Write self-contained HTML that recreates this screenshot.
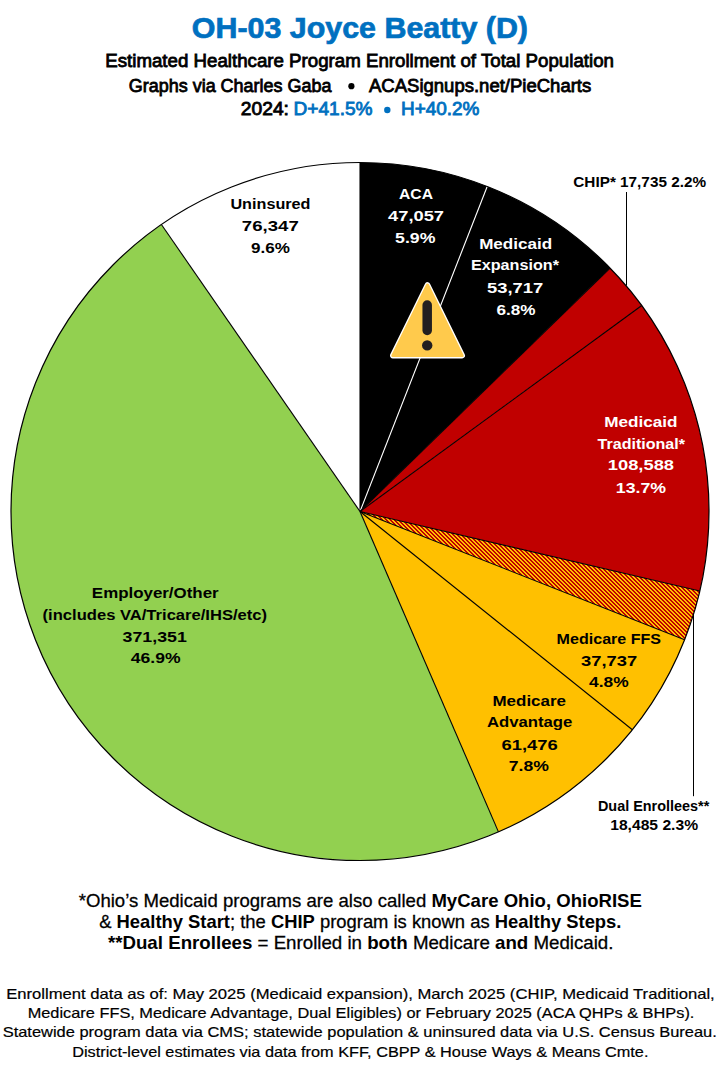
<!DOCTYPE html>
<html><head><meta charset="utf-8"><style>
html,body{margin:0;padding:0;background:#fff;width:720px;height:1070px;overflow:hidden}
svg{display:block}
</style></head><body>
<svg width="720" height="1070" viewBox="0 0 720 1070" font-family='"Liberation Sans", sans-serif'>
<defs>
<pattern id="hatch" patternUnits="userSpaceOnUse" x="0" y="0" width="4" height="4">
<rect width="4" height="4" fill="#FFC000"/>
<g fill="#C00000" shape-rendering="crispEdges"><rect x="2" y="0" width="2" height="1"/><rect x="3" y="1" width="1" height="1"/><rect x="0" y="1" width="1" height="1"/><rect x="0" y="2" width="2" height="1"/><rect x="1" y="3" width="2" height="1"/></g>
</pattern>
</defs>
<rect width="720" height="1070" fill="#fff"/>
<path d="M360.00,511.50 L360.00,162.50 A349.00,349.00 0 0 1 487.21,186.51 Z" fill="#000000"/>
<path d="M360.00,511.50 L487.21,186.51 A349.00,349.00 0 0 1 610.11,268.09 Z" fill="#000000"/>
<path d="M360.00,511.50 L610.11,268.09 A349.00,349.00 0 0 1 641.75,305.55 Z" fill="#C00000"/>
<path d="M360.00,511.50 L641.75,305.55 A349.00,349.00 0 0 1 699.83,590.97 Z" fill="#C00000"/>
<path d="M360.00,511.50 L699.83,590.97 A349.00,349.00 0 0 1 684.58,639.74 Z" fill="url(#hatch)"/>
<path d="M360.00,511.50 L684.58,639.74 A349.00,349.00 0 0 1 632.37,729.72 Z" fill="#FFC000"/>
<path d="M360.00,511.50 L632.37,729.72 A349.00,349.00 0 0 1 498.45,831.86 Z" fill="#FFC000"/>
<path d="M360.00,511.50 L498.45,831.86 A349.00,349.00 0 0 1 161.41,224.51 Z" fill="#92D050"/>
<path d="M360.00,511.50 L161.41,224.51 A349.00,349.00 0 0 1 360.00,162.50 Z" fill="#FFFFFF"/>
<line x1="360.00" y1="511.50" x2="360.00" y2="162.50" stroke="#000" stroke-width="1.1"/>
<line x1="360.00" y1="511.50" x2="487.21" y2="186.51" stroke="#fff" stroke-width="1.1"/>
<line x1="360.00" y1="511.50" x2="610.11" y2="268.09" stroke="#000" stroke-width="1.1"/>
<line x1="360.00" y1="511.50" x2="641.75" y2="305.55" stroke="#000" stroke-width="1.1"/>
<line x1="360.00" y1="511.50" x2="699.83" y2="590.97" stroke="#000" stroke-width="1.1"/>
<line x1="360.00" y1="511.50" x2="684.58" y2="639.74" stroke="#000" stroke-width="1.1"/>
<line x1="360.00" y1="511.50" x2="632.37" y2="729.72" stroke="#000" stroke-width="1.1"/>
<line x1="360.00" y1="511.50" x2="498.45" y2="831.86" stroke="#000" stroke-width="1.1"/>
<line x1="360.00" y1="511.50" x2="161.41" y2="224.51" stroke="#000" stroke-width="1.1"/>
<circle cx="360.00" cy="511.50" r="349.00" fill="none" stroke="#000" stroke-width="1.2"/>
<line x1="626.5" y1="192" x2="626.5" y2="285.6" stroke="#000" stroke-width="1"/>
<line x1="693.5" y1="614.4" x2="693.5" y2="796.2" stroke="#000" stroke-width="1"/>
<g>
<polygon points="427.5,285 462.2,355.6 392.8,355.6" fill="#fff" stroke="#fff" stroke-width="5.6" stroke-linejoin="round"/><polygon points="427.5,285 462.2,355.6 392.8,355.6" fill="#FFCA4C" stroke="#FFCA4C" stroke-width="3" stroke-linejoin="round"/>
<line x1="427.2" y1="305" x2="427.2" y2="330.5" stroke="#231F20" stroke-width="9.5" stroke-linecap="round"/>
<circle cx="427.2" cy="345.4" r="5.2" fill="#231F20"/>
</g>
<circle cx="351.4" cy="86.2" r="3.1" fill="#000"/>
<circle cx="387.3" cy="110.0" r="3.2" fill="#0070C0"/>
<text x="191.87" y="38.00" font-size="29.506" textLength="336.12" lengthAdjust="spacingAndGlyphs" style="white-space:pre"><tspan font-weight="700" fill="#0070C0" stroke="#0070C0" stroke-width="0.7">OH-03 Joyce Beatty (D)</tspan></text>
<text x="105.22" y="66.75" font-size="18.169" textLength="508.72" lengthAdjust="spacingAndGlyphs" style="white-space:pre"><tspan font-weight="400" fill="#000" stroke="#000" stroke-width="0.8">Estimated Healthcare Program Enrollment of Total Population</tspan></text>
<text x="128.75" y="91.75" font-size="18.169" textLength="202.74" lengthAdjust="spacingAndGlyphs" style="white-space:pre"><tspan font-weight="400" fill="#000" stroke="#000" stroke-width="0.8">Graphs via Charles Gaba</tspan></text>
<text x="369.00" y="91.75" font-size="18.169" textLength="222.25" lengthAdjust="spacingAndGlyphs" style="white-space:pre"><tspan font-weight="400" fill="#000" stroke="#000" stroke-width="0.8">ACASignups.net/PieCharts</tspan></text>
<text x="240.80" y="115.40" font-size="17.878" textLength="48.16" lengthAdjust="spacingAndGlyphs" style="white-space:pre"><tspan font-weight="400" fill="#000" stroke="#000" stroke-width="0.8">2024:</tspan></text>
<text x="293.53" y="115.40" font-size="17.878" textLength="79.04" lengthAdjust="spacingAndGlyphs" style="white-space:pre"><tspan font-weight="400" fill="#0070C0" stroke="#0070C0" stroke-width="0.8">D+41.5%</tspan></text>
<text x="400.94" y="115.40" font-size="17.878" textLength="78.53" lengthAdjust="spacingAndGlyphs" style="white-space:pre"><tspan font-weight="400" fill="#0070C0" stroke="#0070C0" stroke-width="0.8">H+40.2%</tspan></text>
<text x="230.42" y="208.50" font-size="14.971" textLength="80.10" lengthAdjust="spacingAndGlyphs" style="white-space:pre"><tspan font-weight="700" fill="#000">Uninsured</tspan></text>
<text x="241.86" y="230.60" font-size="14.971" textLength="56.88" lengthAdjust="spacingAndGlyphs" style="white-space:pre"><tspan font-weight="700" fill="#000">76,347</tspan></text>
<text x="251.00" y="252.50" font-size="14.971" textLength="38.89" lengthAdjust="spacingAndGlyphs" style="white-space:pre"><tspan font-weight="700" fill="#000">9.6%</tspan></text>
<text x="399.00" y="198.75" font-size="14.971" textLength="33.96" lengthAdjust="spacingAndGlyphs" style="white-space:pre"><tspan font-weight="700" fill="#fff">ACA</tspan></text>
<text x="388.10" y="220.60" font-size="14.971" textLength="55.97" lengthAdjust="spacingAndGlyphs" style="white-space:pre"><tspan font-weight="700" fill="#fff">47,057</tspan></text>
<text x="395.07" y="242.50" font-size="14.971" textLength="40.33" lengthAdjust="spacingAndGlyphs" style="white-space:pre"><tspan font-weight="700" fill="#fff">5.9%</tspan></text>
<text x="479.16" y="248.70" font-size="14.971" textLength="73.05" lengthAdjust="spacingAndGlyphs" style="white-space:pre"><tspan font-weight="700" fill="#fff">Medicaid</tspan></text>
<text x="470.92" y="270.10" font-size="14.971" textLength="88.07" lengthAdjust="spacingAndGlyphs" style="white-space:pre"><tspan font-weight="700" fill="#fff">Expansion*</tspan></text>
<text x="487.07" y="292.70" font-size="14.971" textLength="56.21" lengthAdjust="spacingAndGlyphs" style="white-space:pre"><tspan font-weight="700" fill="#fff">53,717</tspan></text>
<text x="496.40" y="314.60" font-size="14.971" textLength="39.04" lengthAdjust="spacingAndGlyphs" style="white-space:pre"><tspan font-weight="700" fill="#fff">6.8%</tspan></text>
<text x="573.32" y="187.30" font-size="14.244" textLength="132.76" lengthAdjust="spacingAndGlyphs" style="white-space:pre"><tspan font-weight="700" fill="#000">CHIP* 17,735 2.2%</tspan></text>
<text x="604.15" y="426.60" font-size="14.971" textLength="73.36" lengthAdjust="spacingAndGlyphs" style="white-space:pre"><tspan font-weight="700" fill="#fff">Medicaid</tspan></text>
<text x="597.60" y="448.50" font-size="14.971" textLength="87.38" lengthAdjust="spacingAndGlyphs" style="white-space:pre"><tspan font-weight="700" fill="#fff">Traditional*</tspan></text>
<text x="607.78" y="470.30" font-size="14.971" textLength="66.26" lengthAdjust="spacingAndGlyphs" style="white-space:pre"><tspan font-weight="700" fill="#fff">108,588</tspan></text>
<text x="615.82" y="492.50" font-size="14.971" textLength="50.22" lengthAdjust="spacingAndGlyphs" style="white-space:pre"><tspan font-weight="700" fill="#fff">13.7%</tspan></text>
<text x="556.63" y="643.70" font-size="14.971" textLength="104.42" lengthAdjust="spacingAndGlyphs" style="white-space:pre"><tspan font-weight="700" fill="#000">Medicare FFS</tspan></text>
<text x="581.10" y="665.70" font-size="14.971" textLength="56.18" lengthAdjust="spacingAndGlyphs" style="white-space:pre"><tspan font-weight="700" fill="#000">37,737</tspan></text>
<text x="589.10" y="687.30" font-size="14.971" textLength="39.65" lengthAdjust="spacingAndGlyphs" style="white-space:pre"><tspan font-weight="700" fill="#000">4.8%</tspan></text>
<text x="492.47" y="705.80" font-size="14.971" textLength="73.56" lengthAdjust="spacingAndGlyphs" style="white-space:pre"><tspan font-weight="700" fill="#000">Medicare</tspan></text>
<text x="486.90" y="727.40" font-size="14.971" textLength="85.39" lengthAdjust="spacingAndGlyphs" style="white-space:pre"><tspan font-weight="700" fill="#000">Advantage</tspan></text>
<text x="501.50" y="749.60" font-size="14.971" textLength="56.28" lengthAdjust="spacingAndGlyphs" style="white-space:pre"><tspan font-weight="700" fill="#000">61,476</tspan></text>
<text x="508.72" y="771.40" font-size="14.971" textLength="40.17" lengthAdjust="spacingAndGlyphs" style="white-space:pre"><tspan font-weight="700" fill="#000">7.8%</tspan></text>
<text x="91.87" y="597.80" font-size="14.971" textLength="126.76" lengthAdjust="spacingAndGlyphs" style="white-space:pre"><tspan font-weight="700" fill="#000">Employer/Other</tspan></text>
<text x="42.59" y="620.00" font-size="14.971" textLength="224.49" lengthAdjust="spacingAndGlyphs" style="white-space:pre"><tspan font-weight="700" fill="#000">(includes VA/Tricare/IHS/etc)</tspan></text>
<text x="122.50" y="641.70" font-size="14.971" textLength="64.33" lengthAdjust="spacingAndGlyphs" style="white-space:pre"><tspan font-weight="700" fill="#000">371,351</tspan></text>
<text x="130.80" y="663.30" font-size="14.971" textLength="49.73" lengthAdjust="spacingAndGlyphs" style="white-space:pre"><tspan font-weight="700" fill="#000">46.9%</tspan></text>
<text x="597.98" y="811.00" font-size="14.099" textLength="111.28" lengthAdjust="spacingAndGlyphs" style="white-space:pre"><tspan font-weight="700" fill="#000">Dual Enrollees**</tspan></text>
<text x="610.19" y="830.00" font-size="14.099" textLength="87.88" lengthAdjust="spacingAndGlyphs" style="white-space:pre"><tspan font-weight="700" fill="#000">18,485 2.3%</tspan></text>
<text x="78.75" y="906.90" font-size="18.169" textLength="563.14" lengthAdjust="spacingAndGlyphs" style="white-space:pre"><tspan font-weight="400" fill="#000" stroke="#000" stroke-width="0.28">*Ohio’s Medicaid programs are also called </tspan><tspan font-weight="700" fill="#000">MyCare Ohio, OhioRISE</tspan></text>
<text x="99.20" y="927.70" font-size="18.169" textLength="522.26" lengthAdjust="spacingAndGlyphs" style="white-space:pre"><tspan font-weight="400" fill="#000" stroke="#000" stroke-width="0.28">&amp; </tspan><tspan font-weight="700" fill="#000">Healthy Start</tspan><tspan font-weight="400" fill="#000" stroke="#000" stroke-width="0.28">; the </tspan><tspan font-weight="700" fill="#000">CHIP</tspan><tspan font-weight="400" fill="#000" stroke="#000" stroke-width="0.28"> program is known as </tspan><tspan font-weight="700" fill="#000">Healthy Steps.</tspan></text>
<text x="107.90" y="949.20" font-size="18.169" textLength="505.55" lengthAdjust="spacingAndGlyphs" style="white-space:pre"><tspan font-weight="700" fill="#000">**Dual Enrollees</tspan><tspan font-weight="400" fill="#000" stroke="#000" stroke-width="0.28"> = Enrolled in </tspan><tspan font-weight="700" fill="#000">both</tspan><tspan font-weight="400" fill="#000" stroke="#000" stroke-width="0.28"> Medicare </tspan><tspan font-weight="700" fill="#000">and</tspan><tspan font-weight="400" fill="#000" stroke="#000" stroke-width="0.28"> Medicaid.</tspan></text>
<text x="6.20" y="998.75" font-size="15.117" textLength="708.53" lengthAdjust="spacingAndGlyphs" style="white-space:pre"><tspan font-weight="400" fill="#000" stroke="#000" stroke-width="0.2">Enrollment data as of: May 2025 (Medicaid expansion), March 2025 (CHIP, Medicaid Traditional,</tspan></text>
<text x="27.67" y="1017.90" font-size="15.117" textLength="666.74" lengthAdjust="spacingAndGlyphs" style="white-space:pre"><tspan font-weight="400" fill="#000" stroke="#000" stroke-width="0.2">Medicare FFS, Medicare Advantage, Dual Eligibles) or February 2025 (ACA QHPs &amp; BHPs).</tspan></text>
<text x="2.66" y="1036.90" font-size="15.117" textLength="714.18" lengthAdjust="spacingAndGlyphs" style="white-space:pre"><tspan font-weight="400" fill="#000" stroke="#000" stroke-width="0.2">Statewide program data via CMS; statewide population &amp; uninsured data via U.S. Census Bureau.</tspan></text>
<text x="72.22" y="1056.70" font-size="15.117" textLength="576.22" lengthAdjust="spacingAndGlyphs" style="white-space:pre"><tspan font-weight="400" fill="#000" stroke="#000" stroke-width="0.2">District-level estimates via data from KFF, CBPP &amp; House Ways &amp; Means Cmte.</tspan></text>
</svg>
</body></html>
